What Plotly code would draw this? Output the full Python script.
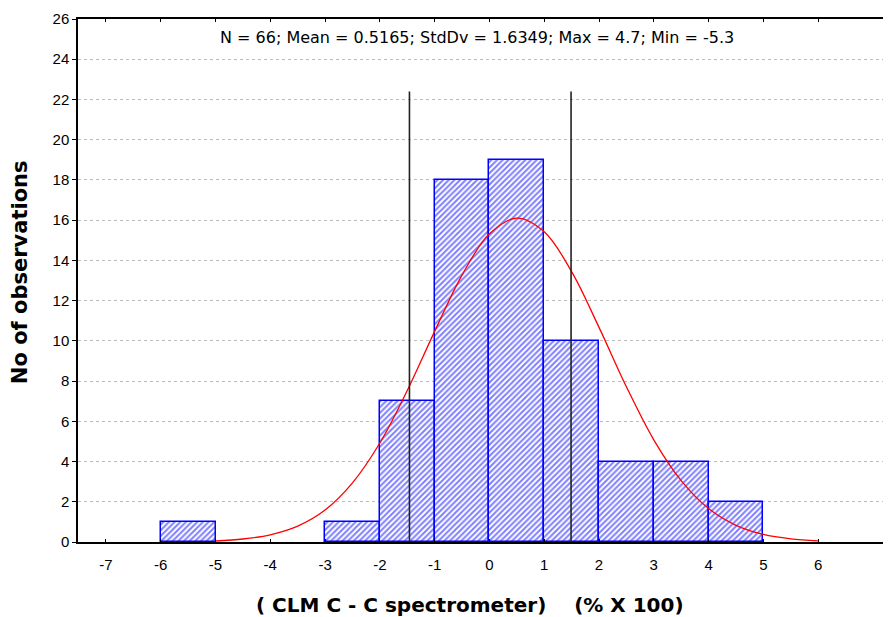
import plotly.graph_objects as go

# histogram bins (left edges) and counts
bin_left = [-6, -3, -2, -1, 0, 1, 2, 3, 4]
counts = [1, 1, 7, 18, 19, 10, 4, 4, 2]
bin_width = 1

# fitted normal curve
curve_x = [-5, -4.5, -4, -3.5, -3, -2.5, -2, -1.5, -1, -0.5, 0, 0.5,
           1, 1.5, 2, 2.5, 3, 3.5, 4, 4.5, 5, 5.5, 6]
curve_y = [0.05, 0.15, 0.36, 0.79, 1.59, 2.94, 4.92, 7.53, 10.47, 13.27, 15.32, 16.1,
           15.42, 13.44, 10.67, 7.72, 5.08, 3.05, 1.66, 0.83, 0.38, 0.16, 0.06]

# vertical reference lines
vline_x = [-1.46, 1.49]
vline_top = 22.4

stats_text = "N = 66; Mean = 0.5165; StdDv = 1.6349; Max = 4.7; Min = -5.3"
x_title = "<b>( CLM C - C spectrometer)    (% X 100)</b>"
y_title = "<b>No of observations</b>"

fig = go.Figure()

fig.add_bar(x=[b + bin_width / 2 for b in bin_left], y=counts, width=bin_width,
            marker=dict(color="white",
                        line=dict(color="#0000ff", width=1.5),
                        pattern=dict(shape="/", fgcolor="#0000ff", bgcolor="white",
                                     size=4, solidity=0.5)),
            showlegend=False)

fig.add_scatter(x=curve_x, y=curve_y, mode="lines", line_shape="spline",
                line=dict(color="#ff0000", width=1.3), showlegend=False)

for vx in vline_x:
    fig.add_scatter(x=[vx, vx], y=[0, vline_top], mode="lines",
                    line=dict(color="#222222", width=1.6), showlegend=False)

fig.add_annotation(text=stats_text, x=-0.23, y=25.07, xref="x", yref="y",
                   showarrow=False, font=dict(size=16, family="DejaVu Sans", color="black"))
# axis titles as annotations so they sit off-centre like the original
fig.add_annotation(text=x_title, x=0.482, y=-0.12, xref="paper", yref="paper",
                   showarrow=False, yanchor="middle",
                   font=dict(size=20, family="DejaVu Sans", color="black"))
fig.add_annotation(text=y_title, x=-0.0713, y=0.516, xref="paper", yref="paper",
                   showarrow=False, textangle=-90, xanchor="center",
                   font=dict(size=21, family="DejaVu Sans", color="black"))

# page has an 8px body margin, so the figure is 8px smaller
fig.update_layout(
    width=883, height=609,
    margin=dict(l=70, r=0, t=11, b=75),
    paper_bgcolor="white", plot_bgcolor="white",
    font=dict(family="Liberation Sans, Arial", color="black", size=15),
    bargap=0,
)
fig.update_xaxes(range=[-7.51, 7.33], tickmode="array", tickvals=list(range(-7, 7)),
                 ticktext=[str(v) for v in range(-7, 7)], automargin=False,
                 showgrid=False, zeroline=False, showline=True, linecolor="black", linewidth=1.5,
                 mirror="ticks", ticks="inside", ticklen=3, tickcolor="black",
                 ticklabelstandoff=8)
fig.update_yaxes(range=[0, 26], tick0=0, dtick=2, showgrid=True, gridcolor="#bbbbbb",
                 griddash="dot", gridwidth=1, zeroline=False, showline=True, automargin=False,
                 linecolor="black", linewidth=1.5, ticks="outside", ticklen=4, tickcolor="black")

fig.write_html("out.html")
